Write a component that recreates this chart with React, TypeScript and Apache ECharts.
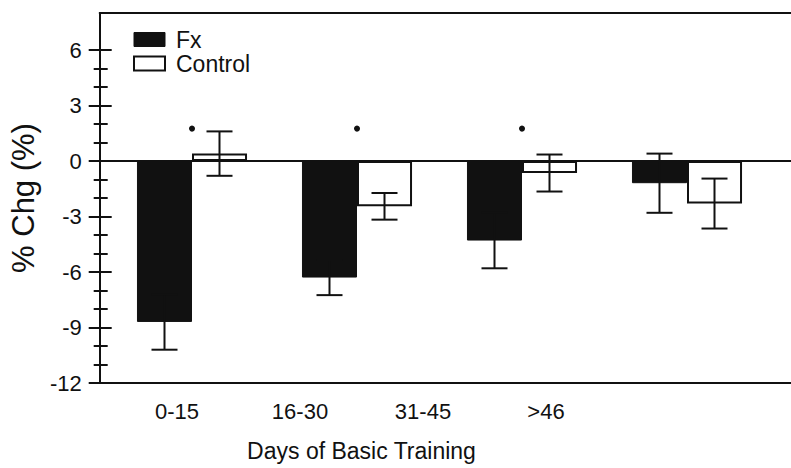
import React, { useEffect, useRef } from "react";
import * as echarts from "echarts";

const categories = ["0-15", "16-30", "31-45", ">46"];
const fxValues = [-8.7, -6.3, -4.3, -1.2];
const fxErrors = [1.5, 0.95, 1.5, 1.6];
const controlValues = [0.4, -2.45, -0.65, -2.3];
const controlErrors = [1.2, 0.72, 1.0, 1.35];
const significant = ["0-15", "16-30", "31-45"];
const markerLevel = 1.75;
const yMajorTicks = [-12, -9, -6, -3, 0, 3, 6];
const yMinorTicks = [-11, -10, -8, -7, -5, -4, -2, -1, 1, 2, 4, 5];
const yMin = -12;
const yMax = 8;

const FONT = "'Liberation Sans', Arial, Helvetica, sans-serif";
const INK = "#111";

function errorRenderer(side: number) {
  return (params: any, api: any) => {
    const idx = api.value(0);
    const v = api.value(1);
    const e = api.value(2);
    const band = api.size([1, 0])[0];
    const cx = api.coord([idx, v])[0] + (side * band) / 6;
    const yTop = api.coord([idx, v + e])[1];
    const yBot = api.coord([idx, v - e])[1];
    const half = 13;
    const style = { stroke: INK, lineWidth: 2 };
    return {
      type: "group",
      children: [
        { type: "line", shape: { x1: cx, y1: yTop, x2: cx, y2: yBot }, style },
        { type: "line", shape: { x1: cx - half, y1: yTop, x2: cx + half, y2: yTop }, style },
        { type: "line", shape: { x1: cx - half, y1: yBot, x2: cx + half, y2: yBot }, style },
      ],
    };
  };
}

export default function App() {
  const ref = useRef<HTMLDivElement>(null);
  useEffect(() => {
    if (!ref.current) return;
    const chart = echarts.init(ref.current, undefined, { renderer: "svg" });
    const grid = { top: 13, bottom: 85 };
    const hiddenAxis = {
      axisLine: { show: false },
      axisTick: { show: false },
      axisLabel: { show: false },
      splitLine: { show: false },
    };
    const boxLine = { show: true, onZero: false, lineStyle: { color: INK, width: 2 } };
    const yBase = {
      type: "value",
      gridIndex: 0,
      position: "left",
      offset: 0,
      min: yMin,
      max: yMax,
      interval: 1,
      splitLine: { show: false },
    };
    chart.setOption({
      animation: false,
      backgroundColor: "#fff",
      textStyle: { fontFamily: FONT },
      grid: [
        { left: 98, right: 0, ...grid },
        { left: 109.5, right: 21.5, ...grid },
        { left: 115.5, right: 183.5, ...grid },
      ],
      legend: {
        left: 133,
        top: 28,
        orient: "vertical",
        padding: 0,
        itemGap: 1,
        itemWidth: 31,
        itemHeight: 14,
        icon: "rect",
        selectedMode: false,
        textStyle: { fontSize: 23, lineHeight: 22, color: INK, fontFamily: FONT, padding: [0, 0, 0, 6] },
        data: [
          { name: "Fx", itemStyle: { color: INK, borderColor: INK, borderWidth: 1 } },
          { name: "Control", itemStyle: { color: "#fff", borderColor: INK, borderWidth: 2 } },
        ],
      },
      xAxis: [
        { type: "value", gridIndex: 0, min: 0, max: 1, position: "bottom", ...hiddenAxis, axisLine: boxLine },
        { type: "value", gridIndex: 0, min: 0, max: 1, position: "top", ...hiddenAxis, axisLine: boxLine },
        {
          type: "value", gridIndex: 0, min: 0, max: 1, position: "bottom", z: 5, ...hiddenAxis,
          axisLine: { show: true, onZero: true, lineStyle: { color: INK, width: 2 } },
        },
        { type: "category", gridIndex: 1, data: categories, ...hiddenAxis },
        {
          type: "category", gridIndex: 2, data: categories,
          axisLine: { show: false }, axisTick: { show: false }, splitLine: { show: false },
          axisLabel: { show: true, margin: 17, fontSize: 22, color: INK, fontFamily: FONT },
          name: "Days of Basic Training",
          nameLocation: "middle",
          nameGap: 56,
          nameTextStyle: { fontSize: 23, color: INK, fontFamily: FONT },
        },
      ],
      yAxis: [
        {
          ...yBase,
          axisLine: { show: true, onZero: false, lineStyle: { color: INK, width: 2 } },
          axisTick: { show: true, inside: false, length: 11, customValues: yMajorTicks, lineStyle: { color: INK, width: 2 } },
          axisLabel: { show: true, margin: 18, fontSize: 22, color: INK, fontFamily: FONT, customValues: yMajorTicks },
          name: "% Chg (%)",
          nameLocation: "middle",
          nameRotate: 90,
          nameGap: 58,
          nameTextStyle: { fontSize: 31, color: INK, fontFamily: FONT },
        },
        {
          ...yBase,
          axisLine: { show: false, onZero: false },
          axisTick: { show: true, inside: true, length: 12, customValues: yMajorTicks, lineStyle: { color: INK, width: 2 } },
          axisLabel: { show: false },
        },
        {
          ...yBase,
          axisLine: { show: false, onZero: false },
          axisTick: { show: true, inside: false, length: 6, customValues: yMinorTicks, lineStyle: { color: INK, width: 2 } },
          axisLabel: { show: false },
        },
        {
          ...yBase,
          axisLine: { show: false, onZero: false },
          axisTick: { show: true, inside: true, length: 8, customValues: yMinorTicks, lineStyle: { color: INK, width: 2 } },
          axisLabel: { show: false },
        },
        { type: "value", gridIndex: 1, min: yMin, max: yMax, interval: 1, ...hiddenAxis },
        { type: "value", gridIndex: 2, min: 0, max: 1, ...hiddenAxis },
      ],
      series: [
        {
          name: "Fx",
          type: "bar",
          xAxisIndex: 3,
          yAxisIndex: 4,
          data: fxValues,
          barGap: "0%",
          barCategoryGap: "33.3%",
          itemStyle: { color: INK, borderColor: INK, borderWidth: 1 },
        },
        {
          name: "Control",
          type: "bar",
          xAxisIndex: 3,
          yAxisIndex: 4,
          data: controlValues,
          barGap: "0%",
          barCategoryGap: "33.3%",
          itemStyle: { color: "#fff", borderColor: INK, borderWidth: 2 },
        },
        {
          type: "custom",
          xAxisIndex: 3,
          yAxisIndex: 4,
          z: 4,
          renderItem: errorRenderer(-1),
          encode: { x: 0, y: 1 },
          data: fxValues.map((v, i) => [i, v, fxErrors[i]]),
        },
        {
          type: "custom",
          xAxisIndex: 3,
          yAxisIndex: 4,
          z: 4,
          renderItem: errorRenderer(1),
          encode: { x: 0, y: 1 },
          data: controlValues.map((v, i) => [i, v, controlErrors[i]]),
        },
        {
          type: "scatter",
          xAxisIndex: 3,
          yAxisIndex: 4,
          symbol: "circle",
          symbolSize: 6,
          itemStyle: { color: INK, opacity: 1 },
          data: significant.map((c) => [c, markerLevel]),
        },
      ],
    });
    return () => chart.dispose();
  }, []);
  return (
    <div
      ref={ref}
      style={{ position: "fixed", left: 0, top: 0, width: 791, height: 468, background: "#fff" }}
    />
  );
}
